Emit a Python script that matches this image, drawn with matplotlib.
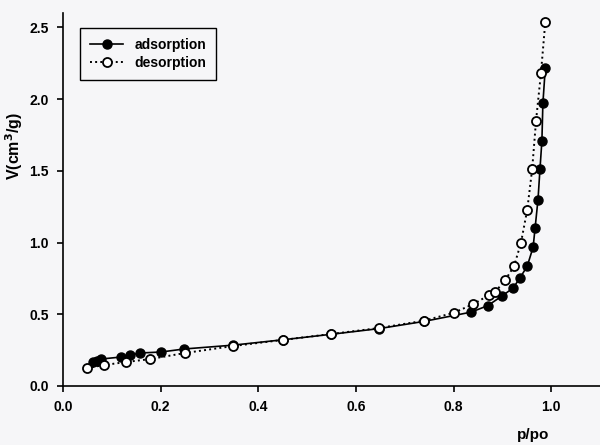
import matplotlib.pyplot as plt

plt.rcParams['font.family'] = ['Liberation Sans', 'DejaVu Sans']

# adsorption branch (filled circles)
ads_p = [0.062, 0.070, 0.078, 0.119, 0.138, 0.158, 0.201, 0.248, 0.349, 0.450,
         0.548, 0.647, 0.739, 0.836, 0.870, 0.899, 0.922, 0.936, 0.951, 0.963,
         0.967, 0.973, 0.977, 0.981, 0.983, 0.988]
ads_v = [0.167, 0.174, 0.188, 0.202, 0.216, 0.230, 0.237, 0.258, 0.285, 0.322,
         0.360, 0.400, 0.450, 0.515, 0.560, 0.627, 0.683, 0.753, 0.836, 0.968,
         1.10, 1.30, 1.51, 1.71, 1.97, 2.22]

# desorption branch (open circles)
des_p = [0.049, 0.084, 0.129, 0.179, 0.250, 0.349, 0.450, 0.548, 0.647, 0.739,
         0.800, 0.840, 0.873, 0.885, 0.906, 0.924, 0.938, 0.951, 0.961, 0.969,
         0.979, 0.988]
des_v = [0.125, 0.146, 0.167, 0.188, 0.230, 0.279, 0.321, 0.362, 0.404, 0.455,
         0.51, 0.57, 0.634, 0.655, 0.739, 0.836, 0.997, 1.23, 1.51, 1.85,
         2.18, 2.54]

xticks = [0.0, 0.2, 0.4, 0.6, 0.8, 1.0]
yticks = [0.0, 0.5, 1.0, 1.5, 2.0, 2.5]

fig = plt.figure(figsize=(6, 4.45), dpi=100, facecolor='#f6f6f8')
ax = fig.add_axes([0.105, 0.1326, 0.895, 0.838])
ax.set_facecolor('#f6f6f8')

ax.plot(ads_p, ads_v, '-', color='black', lw=1.2, marker='o', ms=6.5,
        mfc='black', mec='black', label='adsorption', zorder=2)
ax.plot(des_p, des_v, ':', color='black', lw=1.4, marker='o', ms=6.5,
        mfc='white', mec='black', mew=1.3, label='desorption', zorder=3)

ax.set_xlim(0, 1.1)
ax.set_ylim(0, 2.6)
ax.set_xticks(xticks)
ax.set_yticks(yticks)
ax.set_xticklabels([f'{t:.1f}' for t in xticks], fontweight='bold')
ax.set_yticklabels([f'{t:.1f}' for t in yticks], fontweight='bold')
ax.tick_params(direction='out', length=4, width=1.2, labelsize=10, pad=6)

for s in ['top', 'right']:
    ax.spines[s].set_visible(False)
for s in ['left', 'bottom']:
    ax.spines[s].set_linewidth(1.2)

leg = ax.legend(loc='upper left', bbox_to_anchor=(0.032, 0.96), borderaxespad=0,
                fancybox=False, framealpha=1, edgecolor='black',
                prop={'size': 10, 'weight': 'bold'},
                handlelength=2.4, borderpad=0.7, labelspacing=0.3)
leg.get_frame().set_linewidth(1.0)
leg.get_frame().set_facecolor('#f6f6f8')

fig.text(0.024, 0.672, 'V(cm$^\\mathbf{3}$/g)', rotation=90, ha='center', va='center',
         fontsize=11.5, fontweight='bold')
fig.text(0.888, 0.006, 'p/po', ha='center', va='bottom', fontsize=11, fontweight='bold')

fig.savefig('out.png', dpi=100, facecolor=fig.get_facecolor())
